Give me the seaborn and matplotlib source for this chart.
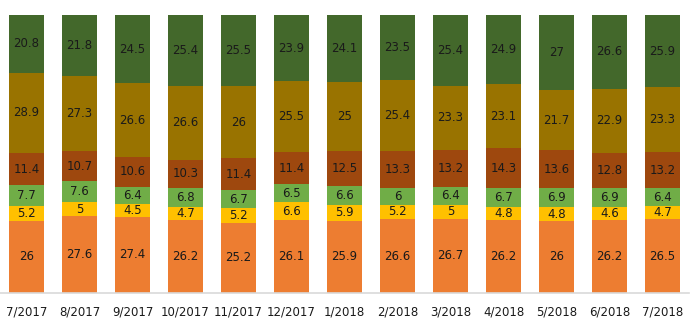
import numpy as np
import pandas as pd
import matplotlib
matplotlib.use("Agg")
import matplotlib.pyplot as plt
import seaborn as sns

months = ["7/2017", "8/2017", "9/2017", "10/2017", "11/2017", "12/2017", "1/2018",
          "2/2018", "3/2018", "4/2018", "5/2018", "6/2018", "7/2018"]

# segments from bottom to top
s1 = [26, 27.6, 27.4, 26.2, 25.2, 26.1, 25.9, 26.6, 26.7, 26.2, 26, 26.2, 26.5]      # orange
s2 = [5.2, 5, 4.5, 4.7, 5.2, 6.6, 5.9, 5.2, 5, 4.8, 4.8, 4.6, 4.7]                   # yellow
s3 = [7.7, 7.6, 6.4, 6.8, 6.7, 6.5, 6.6, 6, 6.4, 6.7, 6.9, 6.9, 6.4]                 # light green
s4 = [11.4, 10.7, 10.6, 10.3, 11.4, 11.4, 12.5, 13.3, 13.2, 14.3, 13.6, 12.8, 13.2]  # brown
s5 = [28.9, 27.3, 26.6, 26.6, 26, 25.5, 25, 25.4, 23.3, 23.1, 21.7, 22.9, 23.3]      # olive
s6 = [20.8, 21.8, 24.5, 25.4, 25.5, 23.9, 24.1, 23.5, 25.4, 24.9, 27, 26.6, 25.9]    # dark green

series = [s1, s2, s3, s4, s5, s6]
colors = ["#ED7D31", "#FFC000", "#70AD47", "#9E480E", "#997300", "#43682B"]

vals = np.array(series, dtype=float)
cum = np.cumsum(vals, axis=0)

fig = plt.figure(figsize=(7, 3.29), dpi=100)
ax = fig.add_axes([0.0, 36 / 329, 689 / 700, 278 / 329])

# draw cumulative layers from the top down so each lower layer covers the one above
for i in range(len(series) - 1, -1, -1):
    df = pd.DataFrame({"month": months, "value": cum[i]})
    sns.barplot(data=df, x="month", y="value", color=colors[i], saturation=1,
                width=0.66, ax=ax, linewidth=0, order=months)

for i in range(len(series)):
    for j in range(len(months)):
        v = vals[i, j]
        y = cum[i, j] - v / 2
        ax.text(j, y, f"{v:g}", ha="center", va="center", fontsize=8.5, color="#1a1a1a")

ax.set_xlim(-0.5, len(months) - 0.5)
ax.set_ylim(0, cum[-1].max())
ax.set_xlabel("")
ax.set_ylabel("")
ax.set_yticks([])
ax.tick_params(axis="x", length=0, pad=9, labelsize=8.5, labelcolor="#1a1a1a")
for side in ["top", "right", "left"]:
    ax.spines[side].set_visible(False)
ax.spines["bottom"].set_color("#D9D9D9")
ax.spines["bottom"].set_linewidth(1.2)
ax.set_facecolor("white")

fig.savefig("out.png", dpi=100, facecolor="white")
